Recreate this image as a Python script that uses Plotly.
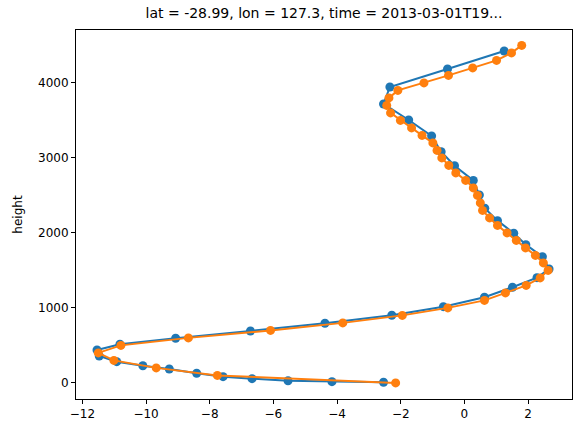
import plotly.graph_objects as go

# profile 1 (model levels)
height_1 = [8, 16, 29, 56, 83, 128, 185, 229, 283, 359, 439, 515, 595, 692, 795, 901,
            1016, 1141, 1275, 1403, 1519, 1683, 1843, 1995, 2163, 2328, 2505, 2700,
            2896, 3083, 3292, 3505, 3719, 3945, 4185, 4425]
value_1 = [-2.54, -4.16, -5.54, -6.67, -7.58, -8.41, -9.27, -10.10, -10.92, -11.47,
           -11.54, -10.82, -9.07, -6.72, -4.38, -2.28, -0.66, 0.63, 1.51, 2.28, 2.66,
           2.45, 1.93, 1.55, 1.04, 0.64, 0.47, 0.28, -0.31, -0.73, -1.03, -1.75,
           -2.54, -2.34, -0.53, 1.25]

# profile 2 (regular 100 m levels)
height_2 = list(range(0, 4600, 100))
value_2 = [-2.16, -7.76, -9.68, -11.01, -11.50, -10.79, -8.67, -6.09, -3.82, -1.95,
           -0.52, 0.63, 1.29, 1.94, 2.38, 2.63, 2.48, 2.23, 1.92, 1.63, 1.34, 1.04,
           0.79, 0.57, 0.50, 0.41, 0.28, 0.04, -0.27, -0.49, -0.71, -0.86, -0.99,
           -1.33, -1.66, -2.01, -2.32, -2.44, -2.37, -2.09, -1.27, -0.50, 0.26,
           1.01, 1.48, 1.80]

title_text = "lat = -28.99, lon = 127.3, time = 2013-03-01T19..."

fig = go.Figure()
fig.add_trace(go.Scatter(x=value_1, y=height_1, mode="lines+markers",
                         line=dict(color="#1f77b4", width=2),
                         marker=dict(color="#1f77b4", size=9)))
fig.add_trace(go.Scatter(x=value_2, y=height_2, mode="lines+markers",
                         line=dict(color="#ff7f0e", width=2),
                         marker=dict(color="#ff7f0e", size=9)))

axis_style = dict(showline=True, linecolor="black", linewidth=1, mirror=True,
                  showgrid=False, zeroline=False, ticks="outside", ticklen=4,
                  tickcolor="black", tickfont=dict(size=12, color="black"),
                  automargin=False)

fig.update_layout(
    width=580, height=433,
    margin=dict(l=76, r=8, t=30, b=34),
    plot_bgcolor="white", paper_bgcolor="white",
    showlegend=False,
    font=dict(family="DejaVu Sans", color="black"),
    title=dict(text=title_text, x=0.5, xref="paper", xanchor="center",
               y=1, yref="paper", yanchor="bottom", pad=dict(b=12),
               font=dict(size=14, color="black")),
)
fig.update_xaxes(range=[-12.2, 3.38], dtick=2, **axis_style)
fig.update_yaxes(range=[-215, 4705], dtick=1000,
                 title=dict(text="height", font=dict(size=12), standoff=12),
                 **axis_style)

# drop the default page margin so the figure sits at the window corner
fig.write_html("out.html", config={"displayModeBar": False},
               post_script="document.body.style.margin='0px';")
